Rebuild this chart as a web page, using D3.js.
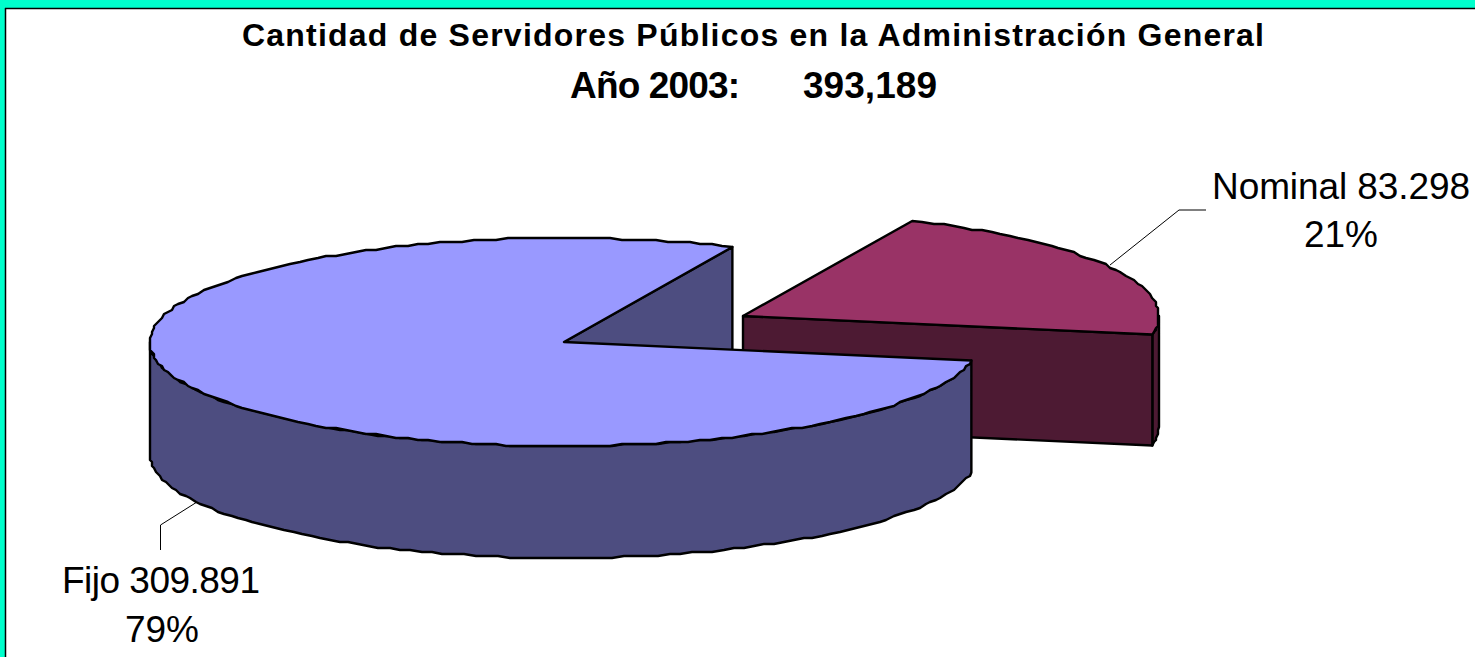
<!DOCTYPE html>
<html><head><meta charset="utf-8">
<script src="https://cdn.jsdelivr.net/npm/d3@7"></script>
<style>html,body{margin:0;padding:0;background:#fff;overflow:hidden}svg{display:block;font-family:"Liberation Sans",Arial,sans-serif}</style>
</head><body><svg id="c" width="1475" height="657"></svg>
<script>
const categories = ["Nominal", "Fijo"];
const values = [83298, 309891];
const valueLabels = ["83.298", "309.891"];
const percentLabels = ["21%", "79%"];
const topColors = ["#993366", "#9999FF"];
const wallColors = ["#4D1A33", "#4D4D80"];
const titleLine = "Cantidad de Servidores Públicos en la Administración General";
const subtitleYear = "Año 2003:";
const subtitleTotal = "393,189";

const svg = d3.select("#c");
svg.append("rect").attr("width",1475).attr("height",657).attr("fill","#00FFCC");
svg.append("rect").attr("x",6).attr("y",9).attr("width",1469).attr("height",648).attr("fill","#fff");
svg.append("line").attr("x1",5.5).attr("x2",5.5).attr("y1",8).attr("y2",657).attr("stroke","#000").attr("stroke-width",1.5);
svg.append("line").attr("x1",5).attr("x2",1475).attr("y1",8.5).attr("y2",8.5).attr("stroke","#000").attr("stroke-width",1.5);

const pie = d3.pie().sort(null).value(d=>d).startAngle(24*Math.PI/180).endAngle((24+360)*Math.PI/180);
const arcs = pie(values);

const RY = 104;
const discs = [
  {cx:743, cy:316, rx:416, depth:111},
  {cx:564, cy:342, rx:414, depth:112}
];
function project(d){
  const x = d3.scaleLinear().domain([-1,1]).range([d.cx-d.rx,d.cx+d.rx]);
  const y = d3.scaleLinear().domain([-1,1]).range([d.cy-RY,d.cy+RY]);
  return (a,dz=0)=>[x(Math.sin(a)), y(-Math.cos(a))+dz];
}
const snap = (p,s)=>[Math.round(p[0]/s)*s, Math.round(p[1]/s)*s];
function rim(P,a0,a1,dz=0){
  const n = Math.max(2,Math.ceil(Math.abs(a1-a0)/(1.6*Math.PI/180)));
  return d3.range(n+1).map(i=>{
    const a = a0+(a1-a0)*i/n, p = P(a,dz);
    return (i===0||i===n)?p:snap(p,2);
  });
}
const line = d3.line();
const draw = (pts,fill)=>svg.append("path").attr("d",line(pts)+"Z").attr("fill",fill)
  .attr("stroke","#000").attr("stroke-width",2.4).attr("stroke-linejoin","round");

// Nominal
{
  const d = discs[0], P = project(d), a = arcs[0], c=[d.cx,d.cy], D=d.depth;
  const right = Math.PI/2;
  draw(rim(P,right,a.endAngle).concat(rim(P,a.endAngle,right,D)),wallColors[0]);
  const e = P(a.endAngle);
  draw([c,e,[e[0],e[1]+D],[c[0],c[1]+D]],wallColors[0]);
  draw([c].concat(rim(P,a.startAngle,a.endAngle)),topColors[0]);
}
// Fijo
{
  const d = discs[1], P = project(d), a = arcs[1], c=[d.cx,d.cy], D=d.depth;
  const s = P(a.endAngle);
  draw([c,s,[s[0],s[1]+D],[c[0],c[1]+D]],wallColors[1]);
  const left = 1.5*Math.PI;
  draw(rim(P,a.startAngle,left).concat(rim(P,left,a.startAngle,D)),wallColors[1]);
  draw([c].concat(rim(P,a.startAngle,a.endAngle)),topColors[1]);
}
// Leaders
const leader = pts=>svg.append("path").attr("d",d3.line()(pts)).attr("fill","none").attr("stroke","#000").attr("stroke-width",1);
leader([[1110,265],[1179,210],[1206,210]]);
leader([[197,502],[160.5,525],[160.5,550]]);

const text = (s,x,y,size,bold,len)=>{
  const t = svg.append("text").attr("x",x).attr("y",y).attr("text-anchor","middle").attr("font-size",size)
    .attr("font-weight",bold?"bold":"normal").attr("fill","#000").text(s);
  if(len) t.attr("textLength",len).attr("lengthAdjust","spacing");
  return t;
};
text(titleLine,753,46,32,true,1022);
text(subtitleYear,655,98,37,true,170);
text(subtitleTotal,870,98,37,true,134);
text(categories[0]+" "+valueLabels[0],1341,199,37,false,258);
text(percentLabels[0],1341,247,37,false);
text(categories[1]+" "+valueLabels[1],161,593,37,false,198);
text(percentLabels[1],162,642,37,false);
</script></body></html>
